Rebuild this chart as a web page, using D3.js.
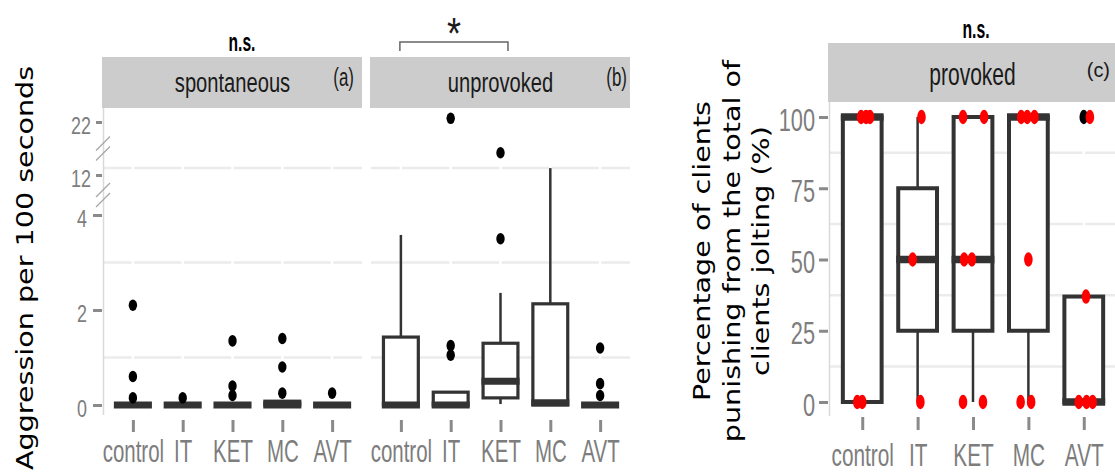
<!DOCTYPE html>
<html>
<head>
<meta charset="utf-8">
<script src="https://cdn.jsdelivr.net/npm/d3@7"></script>
<style>
  body { margin: 0; background: #fff; }
</style>
</head>
<body>
<div id="chart"></div>
<script>
// categories shared by all three panels
const cats = ['control', 'IT', 'KET', 'MC', 'AVT'];

// box stats per category: [lower whisker, q1, median, q3, upper whisker]
const spontStats = [[0, 0, 0, 0, 0], [0, 0, 0, 0, 0], [0, 0, 0, 0, 0], [0, 0, 0, 0.08, 0.08], [0, 0, 0, 0, 0]];
const spontOut = [[2.1, 0.6, 0.15], [0.15], [1.35, 0.4, 0.2], [1.4, 0.8, 0.25], [0.25]];

const unprovStats = [[0, 0, 0, 1.43, 3.58], [0, 0, 0, 0.27, 0.27], [0.02, 0.15, 0.5, 1.3, 2.36], [0, 0, 0.05, 2.13, 13.3], [0, 0, 0, 0, 0]];
const unprovOut = [[], [22.7, 1.25, 1.05], [16.2, 3.5], [], [1.2, 0.45, 0.2]];

const provStats = [[0, 0, 100, 100, 100], [0, 25, 50, 75, 100], [0, 25, 50, 100, 100], [0, 25, 100, 100, 100], [0, 0, 0, 37, 37]];
const provOut = [[], [], [], [], [100]];

// jittered raw points of the provoked panel (red)
const provPtCat = ['control', 'control', 'control', 'control', 'control',
  'IT', 'IT', 'IT',
  'KET', 'KET', 'KET', 'KET', 'KET', 'KET',
  'MC', 'MC', 'MC', 'MC', 'MC', 'MC',
  'AVT', 'AVT', 'AVT', 'AVT', 'AVT'];
const provPtVal = [100, 100, 100, 0, 0,
  100, 50, 0,
  100, 100, 50, 50, 0, 0,
  100, 100, 100, 50, 0, 0,
  100, 37, 0, 0, 0];
const provPtJit = [-0.02, 0.07, 0.14, -0.09, 0.0,
  0.07, -0.09, 0.05,
  -0.18, 0.2, -0.16, -0.02, -0.18, 0.18,
  -0.13, -0.02, 0.11, 0.0, -0.14, 0.05,
  0.11, 0.04, -0.09, 0.05, 0.16];

// axis ticks and minor grid values
const aggTicksLow = [0, 2, 4];
const aggTicksHigh = [12, 22];
const aggGrid = [1, 3, 13.3];
const aggBreaks = [8, 17];
const pctTicks = [0, 25, 50, 75, 100];
const pctGrid = [12.5, 37.5, 62.5, 87.5];

const svg = d3.select('#chart')
  .append('svg')
  .attr('width', 1115)
  .attr('height', 473)
  .style('font-family', '"Liberation Sans", Arial, sans-serif');

svg.append('rect').attr('width', 1115).attr('height', 473).attr('fill', '#fff');

// broken axis: 0-4 linear, then compressed 12-22
const yAgg = d3.scaleLinear().domain([0, 4, 12, 22]).range([405, 215, 175, 122]);
const yPct = d3.scaleLinear().domain([0, 100]).range([402, 117]);

function addText(g, x, y, str, o) {
  return g.append('text')
    .attr('transform', `translate(${x},${y}) scale(${o.sx || 1},1)`)
    .attr('text-anchor', o.anchor || 'middle')
    .style('font-size', o.size + 'px')
    .style('font-weight', o.weight || 'normal')
    .style('fill', o.fill || '#1a1a1a')
    .text(str);
}

// narrow the axis labels horizontally
function squeeze(sel, sx) {
  sel.each(function () {
    const t = d3.select(this);
    const x = +t.attr('x') || 0;
    t.attr('x', x / sx).attr('transform', `scale(${sx},1)`);
  });
}

function panel(o) {
  const x = d3.scalePoint().domain(cats).range([o.left, o.right]).padding(0.6);
  const step = x.step();
  const bw = step * 0.7;
  const y = o.y;
  const g = svg.append('g');

  // strip
  g.append('rect')
    .attr('x', o.left - 1)
    .attr('y', o.stripTop)
    .attr('width', Math.min(o.right, 1115) - o.left + 1)
    .attr('height', o.stripH)
    .attr('fill', '#cccccc');
  addText(g, (o.left + Math.min(o.right, 1116)) / 2, o.stripBase, o.strip, { size: o.stripSize, sx: o.stripSx });
  addText(g, o.tagX, o.tagBase, o.tag, { size: o.tagSize, sx: o.tagSx, anchor: 'end' });

  const top = o.stripTop + o.stripH;

  // minor grid, with white major x grid over it
  g.selectAll('.grid')
    .data(o.grid)
    .enter()
    .append('line')
    .attr('x1', o.left)
    .attr('x2', o.right)
    .attr('y1', d => y(d))
    .attr('y2', d => y(d))
    .attr('stroke', '#ebebeb')
    .attr('stroke-width', 2.5);
  g.selectAll('.vgrid')
    .data(cats)
    .enter()
    .append('line')
    .attr('x1', d => x(d))
    .attr('x2', d => x(d))
    .attr('y1', top)
    .attr('y2', o.bottom)
    .attr('stroke', '#fff')
    .attr('stroke-width', 2.5);

  if (o.axisLine) {
    g.append('line')
      .attr('x1', o.left + 0.5)
      .attr('x2', o.left + 0.5)
      .attr('y1', top)
      .attr('y2', o.bottom)
      .attr('stroke', '#d9d9d9')
      .attr('stroke-width', 1.5);
  }

  // x axis
  const xa = g.append('g')
    .attr('transform', `translate(0,${o.xAxisY})`)
    .call(d3.axisBottom(x).tickSize(o.xTickLen))
    .call(a => a.select('.domain').remove());
  xa.selectAll('line').attr('stroke', '#8a8a8a').attr('stroke-width', 3);
  xa.selectAll('text')
    .attr('y', o.xLabelDy)
    .attr('dy', 0)
    .style('font-size', o.xLabelSize + 'px')
    .style('font-family', '"Liberation Sans", Arial, sans-serif')
    .style('fill', '#7d7d7d')
    .call(s => squeeze(s, o.xLabelSx));

  // boxes
  const boxes = g.selectAll('.box')
    .data(o.stats)
    .enter()
    .append('g')
    .attr('class', 'box')
    .attr('transform', (d, i) => `translate(${x(cats[i])},0)`);

  boxes.append('line')
    .attr('y1', d => y(d[3]))
    .attr('y2', d => y(d[4]))
    .attr('stroke', '#333')
    .attr('stroke-width', 2.5);
  boxes.append('line')
    .attr('y1', d => y(d[1]))
    .attr('y2', d => y(d[0]))
    .attr('stroke', '#333')
    .attr('stroke-width', 2.5);
  boxes.filter(d => d[3] > d[1])
    .append('rect')
    .attr('x', -bw / 2)
    .attr('width', bw)
    .attr('y', d => y(d[3]))
    .attr('height', d => y(d[1]) - y(d[3]))
    .attr('fill', '#fff')
    .attr('stroke', '#333')
    .attr('stroke-width', o.boxStroke);
  boxes.append('line')
    .attr('x1', -bw / 2 - o.boxStroke / 2)
    .attr('x2', bw / 2 + o.boxStroke / 2)
    .attr('y1', d => y(d[2]))
    .attr('y2', d => y(d[2]))
    .attr('stroke', '#333')
    .attr('stroke-width', o.medStroke);

  // outliers
  boxes.each(function (d, i) {
    d3.select(this)
      .selectAll('ellipse')
      .data(o.out[i])
      .enter()
      .append('ellipse')
      .attr('cx', 0)
      .attr('cy', v => y(v))
      .attr('rx', o.rx)
      .attr('ry', o.ry)
      .attr('fill', '#000');
  });

  return { g, x, step };
}

// (a) spontaneous
const pa = panel({
  left: 103, right: 362, bottom: 415, y: yAgg, grid: aggGrid,
  stripTop: 57, stripH: 51, strip: 'spontaneous', stripBase: 92, stripSize: 28, stripSx: 0.72,
  tag: '(a)', tagX: 354, tagBase: 86, tagSize: 26, tagSx: 0.65,
  axisLine: true, xAxisY: 420, xTickLen: 12, xLabelDy: 42, xLabelSize: 31, xLabelSx: 0.66,
  stats: spontStats, out: spontOut, boxStroke: 3.2, medStroke: 7, rx: 4.2, ry: 5.8
});

// y axis of (a), in two parts around the break
function aggAxis(ticks, len, pad) {
  const a = svg.append('g')
    .attr('transform', 'translate(102,0)')
    .call(d3.axisLeft(yAgg).tickValues(ticks).tickSize(len).tickPadding(pad))
    .call(s => s.select('.domain').remove());
  a.selectAll('line').attr('stroke', '#8a8a8a').attr('stroke-width', 3);
  a.selectAll('text')
    .attr('dy', '0.48em')
    .style('font-size', '23px')
    .style('font-family', '"Liberation Sans", Arial, sans-serif')
    .style('fill', '#7d7d7d')
    .call(s => squeeze(s, 0.78));
}
aggAxis(aggTicksLow, 9, 6);
aggAxis(aggTicksHigh, 6, 5);

// break marks on the axis
aggBreaks.forEach(v => {
  [-5, 5].forEach(dy => {
    svg.append('line')
      .attr('x1', 96)
      .attr('x2', 110)
      .attr('y1', yAgg(v) + dy + 7)
      .attr('y2', yAgg(v) + dy - 7)
      .attr('stroke', '#a6a6a6')
      .attr('stroke-width', 1.3);
  });
});

// (b) unprovoked
const pb = panel({
  left: 371, right: 630, bottom: 415, y: yAgg, grid: aggGrid,
  stripTop: 57, stripH: 51, strip: 'unprovoked', stripBase: 92, stripSize: 28, stripSx: 0.72,
  tag: '(b)', tagX: 627, tagBase: 86, tagSize: 26, tagSx: 0.65,
  axisLine: false, xAxisY: 420, xTickLen: 12, xLabelDy: 42, xLabelSize: 31, xLabelSx: 0.66,
  stats: unprovStats, out: unprovOut, boxStroke: 3.2, medStroke: 7, rx: 4.2, ry: 5.8
});

// (c) provoked
const pc = panel({
  left: 829, right: 1117, bottom: 416, y: yPct, grid: pctGrid,
  stripTop: 43, stripH: 59, strip: 'provoked', stripBase: 85, stripSize: 30.5, stripSx: 0.69,
  tag: '(c)', tagX: 1110, tagBase: 77, tagSize: 21, tagSx: 0.95,
  axisLine: true, xAxisY: 417, xTickLen: 13, xLabelDy: 49, xLabelSize: 32, xLabelSx: 0.65,
  stats: provStats, out: provOut, boxStroke: 4, medStroke: 7.5, rx: 4.3, ry: 7.2
});

const pctAxis = svg.append('g')
  .attr('transform', 'translate(828,0)')
  .call(d3.axisLeft(yPct).tickValues(pctTicks).tickSize(9).tickPadding(4))
  .call(s => s.select('.domain').remove());
pctAxis.selectAll('line').attr('stroke', '#8a8a8a').attr('stroke-width', 3);
pctAxis.selectAll('text')
  .attr('dy', '0.41em')
  .style('font-size', '32px')
  .style('font-family', '"Liberation Sans", Arial, sans-serif')
  .style('fill', '#7d7d7d')
  .call(s => squeeze(s, 0.68));

// red raw points
pc.g.selectAll('.pt')
  .data(provPtVal)
  .enter()
  .append('ellipse')
  .attr('cx', (d, i) => pc.x(provPtCat[i]) + provPtJit[i] * pc.step)
  .attr('cy', d => yPct(d))
  .attr('rx', 4.3)
  .attr('ry', 7.2)
  .attr('fill', '#ff0000');

// significance annotations
addText(svg, 242, 51, 'n.s.', { size: 26, sx: 0.6, weight: 'bold', fill: '#000' });
addText(svg, 976, 38, 'n.s.', { size: 25, sx: 0.63, weight: 'bold', fill: '#000' });

const bx0 = pb.x('control') - 1;
const bx1 = pb.x('KET') + pb.step * 0.15;
svg.append('path')
  .attr('d', `M${bx0},51V42H${bx1}V51`)
  .attr('fill', 'none')
  .attr('stroke', '#666')
  .attr('stroke-width', 1.5);
addText(svg, (bx0 + bx1) / 2, 49, '*', { size: 45, sx: 0.8, fill: '#1a1a1a' });

// axis titles
function yTitle(x, y, str) {
  svg.append('text')
    .attr('transform', `translate(${x},${y}) scale(0.81,1) rotate(-90)`)
    .attr('text-anchor', 'middle')
    .style('font-family', '"DejaVu Sans", Verdana, sans-serif')
    .style('font-size', '28.6px')
    .style('fill', '#000')
    .text(str);
}
yTitle(33, 268, 'Aggression per 100 seconds');
['Percentage of clients', 'punishing from the total of', 'clients jolting (%)']
  .forEach((s, i) => yTitle(710 + i * 29.5, 251, s));
</script>
</body>
</html>
